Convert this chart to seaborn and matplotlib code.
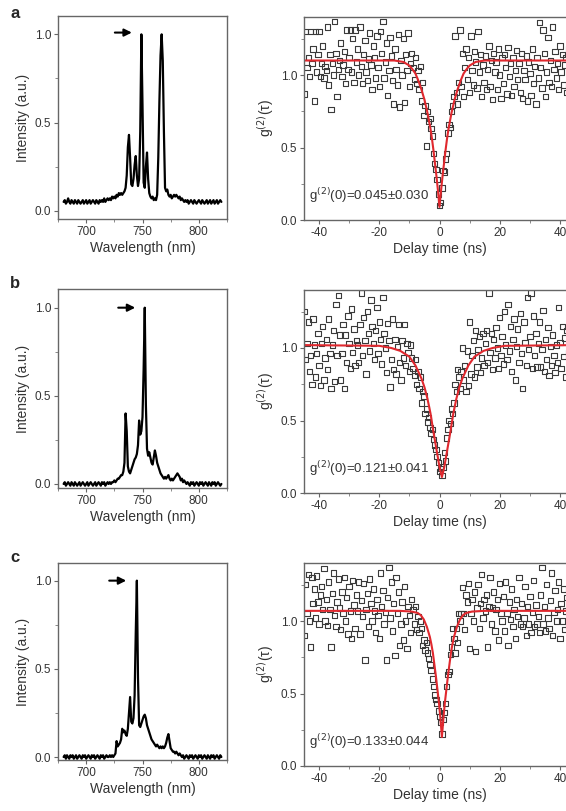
import matplotlib
matplotlib.use("Agg")
import matplotlib.pyplot as plt
from matplotlib.ticker import MultipleLocator, AutoMinorLocator
import seaborn as sns
import numpy as np

# ----------------------------- dados -----------------------------

# espectros: 680 a 820 nm, passo de 1 nm
wavelength = np.arange(680, 821)

spec_a = [0.05, 0.06, 0.04, 0.05, 0.07, 0.05, 0.04, 0.06, 0.05, 0.04,
          0.06, 0.05, 0.04, 0.06, 0.05, 0.04, 0.05, 0.06, 0.04, 0.05,
          0.06, 0.04, 0.05, 0.06, 0.04, 0.05, 0.06, 0.05, 0.04, 0.06,
          0.05, 0.04, 0.06, 0.05, 0.06, 0.05, 0.07, 0.05, 0.06, 0.07,
          0.06, 0.07, 0.06, 0.08, 0.07, 0.08, 0.07, 0.09, 0.08, 0.10,
          0.09, 0.10, 0.09, 0.10, 0.11, 0.13, 0.20, 0.36, 0.43, 0.30,
          0.15, 0.14, 0.18, 0.26, 0.31, 0.20, 0.14, 0.18, 0.45, 1.00,
          0.60, 0.16, 0.13, 0.25, 0.33, 0.18, 0.10, 0.08, 0.07, 0.08,
          0.06, 0.07, 0.06, 0.09, 0.30, 0.62, 0.88, 1.00, 0.85, 0.45,
          0.13, 0.11, 0.12, 0.09, 0.08, 0.09, 0.07, 0.08, 0.09, 0.08,
          0.09, 0.08, 0.07, 0.08, 0.06, 0.07, 0.06, 0.05, 0.06, 0.05,
          0.06, 0.04, 0.05, 0.06, 0.05, 0.04, 0.06, 0.05, 0.04, 0.05,
          0.06, 0.05, 0.04, 0.06, 0.05, 0.04, 0.05, 0.06, 0.04, 0.05,
          0.06, 0.04, 0.05, 0.06, 0.04, 0.05, 0.06, 0.04, 0.05, 0.06,
          0.05]

spec_b = [0.00, 0.01, -0.01, 0.00, 0.01, 0.00, -0.01, 0.01, 0.00, -0.01,
          0.01, 0.00, -0.01, 0.00, 0.01, -0.01, 0.00, 0.01, 0.00, -0.01,
          0.00, 0.01, -0.01, 0.00, 0.01, 0.00, -0.01, 0.00, 0.01, -0.01,
          0.00, 0.01, 0.00, -0.01, 0.01, 0.00, 0.01, -0.01, 0.00, 0.01,
          0.00, 0.01, 0.00, 0.01, 0.01, 0.02, 0.01, 0.02, 0.03, 0.03,
          0.04, 0.05, 0.05, 0.07, 0.12, 0.40, 0.30, 0.10, 0.07, 0.06,
          0.08, 0.10, 0.12, 0.14, 0.15, 0.17, 0.22, 0.36, 0.28, 0.30,
          0.38, 0.65, 1.00, 0.45, 0.20, 0.16, 0.18, 0.15, 0.12, 0.11,
          0.15, 0.19, 0.16, 0.12, 0.10, 0.08, 0.06, 0.05, 0.04, 0.03,
          0.04, 0.03, 0.04, 0.05, 0.03, 0.02, 0.03, 0.02, 0.03, 0.04,
          0.05, 0.06, 0.05, 0.04, 0.02, 0.03, 0.01, 0.02, 0.01, 0.00,
          0.01, 0.00, -0.01, 0.01, 0.00, 0.01, -0.01, 0.00, 0.01, 0.00,
          -0.01, 0.01, 0.00, 0.01, -0.01, 0.00, 0.01, 0.00, -0.01, 0.01,
          0.00, -0.01, 0.01, 0.00, 0.01, -0.01, 0.00, 0.01, 0.00, -0.01,
          0.00]

spec_c = [0.00, 0.01, -0.01, 0.01, 0.00, -0.01, 0.01, 0.00, 0.01, -0.01,
          0.00, 0.01, -0.01, 0.00, 0.01, 0.00, -0.01, 0.01, 0.00, 0.01,
          -0.01, 0.00, 0.01, 0.00, -0.01, 0.01, 0.00, 0.01, -0.01, 0.00,
          0.01, 0.00, -0.01, 0.01, 0.00, 0.01, -0.01, 0.00, 0.01, 0.00,
          0.00, 0.01, 0.00, 0.01, 0.00, 0.01, 0.02, 0.09, 0.06, 0.07,
          0.08, 0.10, 0.16, 0.14, 0.15, 0.13, 0.12, 0.16, 0.25, 0.34,
          0.20, 0.19, 0.22, 0.35, 0.70, 1.00, 0.45, 0.18, 0.17, 0.19,
          0.21, 0.23, 0.24, 0.22, 0.18, 0.16, 0.14, 0.12, 0.10, 0.09,
          0.08, 0.07, 0.06, 0.07, 0.06, 0.05, 0.06, 0.05, 0.06, 0.05,
          0.06, 0.08, 0.11, 0.13, 0.09, 0.05, 0.04, 0.03, 0.03, 0.02,
          0.03, 0.02, 0.01, 0.02, 0.01, 0.00, 0.01, -0.01, 0.00, 0.01,
          0.00, -0.01, 0.01, 0.00, 0.01, -0.01, 0.00, 0.01, 0.00, -0.01,
          0.01, 0.00, 0.01, -0.01, 0.00, 0.01, 0.00, -0.01, 0.01, 0.00,
          -0.01, 0.01, 0.00, 0.01, -0.01, 0.00, 0.01, 0.00, -0.01, 0.01,
          0.00]

# g2: bins de atraso de -44.8 a 44.8 ns, passo de 0.4 ns
delay = np.round(np.arange(-44.8, 44.81, 0.4), 1)

g2_a = [0.87, 1.30, 1.05, 1.12, 0.99, 1.30, 1.08, 1.18, 0.82, 1.30, 1.02, 1.14, 1.30, 0.99, 1.08,
        1.20, 0.98, 1.06, 1.03, 1.33, 0.93, 1.14, 0.76, 1.08, 1.00, 1.37, 1.15, 0.85, 1.04, 1.10,
        1.22, 0.99, 1.07, 1.16, 0.94, 1.31, 1.04, 1.12, 1.31, 1.02, 1.25, 0.95, 1.31, 1.09, 1.18,
        1.00, 1.33, 1.06, 0.94, 1.14, 1.24, 1.02, 0.96, 1.11, 1.29, 1.07, 0.90, 1.20, 1.12, 0.98,
        1.27, 1.05, 0.92, 1.30, 1.15, 1.37, 0.98, 1.09, 1.22, 0.86, 1.03, 1.26, 1.13, 0.96, 0.80,
        1.18, 1.04, 0.93, 1.28, 0.78, 1.10, 1.00, 1.25, 0.81, 1.14, 1.03, 1.29, 0.92, 1.08, 1.15,
        1.05, 0.97, 1.12, 0.94, 1.03, 0.90, 1.06, 0.82, 0.95, 0.72, 0.79, 0.51, 0.75, 0.68, 0.70,
        0.63, 0.58, 0.46, 0.39, 0.35, 0.28, 0.18, 0.10, 0.12, 0.22, 0.34, 0.33, 0.42, 0.46, 0.60,
        0.66, 0.64, 0.75, 0.79, 0.85, 1.27, 0.88, 0.80, 0.95, 1.31, 0.92, 1.15, 0.85, 1.05, 1.18,
        0.97, 1.12, 0.88, 1.27, 1.03, 0.93, 1.16, 1.09, 0.91, 1.30, 1.02, 1.14, 0.85, 1.07, 0.95,
        1.13, 0.90, 1.04, 1.20, 0.92, 1.10, 0.83, 1.15, 1.02, 1.09, 0.90, 1.18, 1.00, 0.84, 1.12,
        0.94, 1.14, 1.05, 0.87, 1.19, 0.99, 1.08, 0.86, 1.12, 0.92, 1.03, 1.17, 0.97, 1.08, 0.88,
        1.15, 0.84, 1.03, 0.97, 1.13, 0.82, 1.09, 1.01, 0.86, 1.18, 0.94, 1.06, 0.80, 1.12, 0.98,
        1.36, 1.05, 0.91, 1.31, 1.15, 0.85, 1.02, 1.26, 0.95, 1.10, 0.92, 1.33, 1.04, 1.16, 0.98,
        1.08, 0.90, 1.20, 1.02, 1.14, 0.93, 1.07, 1.12, 0.88, 1.18, 1.00, 1.10, 0.95, 1.05, 1.12]

g2_b = [1.25, 0.92, 1.03, 1.18, 0.84, 0.95, 0.75, 1.20, 1.02, 0.80, 0.96, 1.10, 0.88, 0.74, 1.03,
        1.15, 0.78, 0.93, 1.06, 0.85, 1.20, 0.96, 0.72, 1.02, 1.12, 0.77, 1.30, 0.95, 1.36, 1.09,
        0.78, 0.96, 1.16, 0.72, 1.09, 0.90, 1.22, 1.03, 0.86, 1.27, 0.97, 1.13, 0.88, 1.05, 1.02,
        0.90, 1.16, 1.38, 0.95, 1.21, 1.05, 0.82, 1.25, 1.10, 0.98, 1.33, 1.15, 1.03, 0.92, 1.12,
        1.28, 0.96, 1.18, 1.06, 0.89, 1.35, 1.10, 1.00, 0.83, 1.17, 1.05, 0.73, 0.92, 1.20, 0.85,
        1.06, 0.82, 1.01, 1.16, 0.90, 0.78, 1.05, 0.93, 1.16, 0.88, 1.03, 0.97, 0.84, 1.02, 0.93,
        0.86, 0.81, 0.92, 0.75, 0.84, 0.72, 0.80, 0.62, 0.70, 0.67, 0.55, 0.58, 0.49, 0.52, 0.45,
        0.41, 0.44, 0.37, 0.33, 0.30, 0.25, 0.21, 0.15, 0.17, 0.12, 0.18, 0.28, 0.22, 0.38, 0.44,
        0.50, 0.48, 0.58, 0.55, 0.62, 0.75, 0.70, 0.85, 0.80, 0.72, 0.84, 1.00, 0.78, 0.88, 0.70,
        0.98, 0.74, 1.18, 0.82, 0.95, 1.05, 0.80, 1.12, 0.87, 0.99, 1.08, 0.83, 0.93, 1.10, 0.88,
        1.03, 1.12, 0.90, 1.38, 0.97, 1.10, 0.85, 1.06, 0.93, 1.14, 1.00, 0.86, 1.21, 0.95, 1.08,
        0.89, 1.25, 1.02, 0.92, 1.30, 0.98, 1.15, 0.84, 1.06, 1.20, 0.78, 1.01, 1.13, 0.90, 1.24,
        0.96, 0.72, 1.18, 1.04, 0.88, 1.35, 0.99, 1.08, 1.38, 0.86, 1.22, 0.95, 1.10, 0.87, 1.03,
        1.18, 0.87, 0.99, 1.26, 0.84, 1.06, 0.92, 1.14, 0.81, 1.01, 0.88, 1.09, 0.95, 0.83, 1.02,
        0.90, 1.28, 1.04, 0.86, 1.15, 0.94, 1.07, 0.80, 1.12, 0.97, 1.03, 0.91, 1.20, 0.99, 1.08]

g2_c = [0.90, 1.25, 1.05, 1.32, 1.00, 0.82, 1.30, 1.12, 1.22, 1.02, 1.31, 1.13, 0.98, 1.18, 1.24,
        1.08, 1.36, 1.00, 1.15, 0.97, 1.27, 1.08, 0.82, 1.19, 1.33, 1.04, 0.96, 1.13, 1.29, 1.09,
        0.94, 1.20, 1.05, 1.30, 1.00, 1.16, 0.91, 1.24, 1.07, 0.88, 1.28, 1.11, 0.95, 1.18, 1.07,
        1.27, 0.91, 1.14, 1.03, 1.26, 0.73, 1.08, 1.19, 0.96, 1.29, 1.12, 1.00, 1.22, 1.07, 0.92,
        1.15, 1.04, 0.88, 1.33, 1.10, 1.21, 0.98, 1.06, 0.73, 1.16, 1.37, 1.02, 1.27, 0.93, 1.12,
        0.76, 1.30, 1.05, 1.20, 0.83, 0.98, 1.13, 0.87, 1.24, 1.00, 0.81, 1.10, 1.04, 0.92, 1.15,
        1.08, 0.98, 1.10, 0.94, 1.03, 0.92, 1.00, 0.95, 0.83, 0.87, 0.80, 0.85, 0.78, 0.74, 0.70,
        0.66, 0.60, 0.55, 0.49, 0.46, 0.43, 0.38, 0.34, 0.30, 0.22, 0.32, 0.37, 0.43, 0.55, 0.63,
        0.65, 0.77, 0.82, 0.95, 0.88, 0.78, 0.95, 0.85, 1.05, 1.00, 1.05, 1.23, 1.05, 0.94, 1.18,
        1.13, 1.26, 0.81, 1.05, 1.15, 1.00, 1.20, 0.79, 1.09, 1.25, 0.95, 1.12, 1.32, 1.02, 1.15,
        1.07, 1.18, 0.82, 1.10, 1.30, 0.98, 1.09, 1.20, 0.93, 1.08, 1.15, 0.87, 1.26, 1.05, 1.00,
        1.17, 0.93, 1.27, 1.05, 0.83, 1.13, 1.01, 1.22, 0.96, 1.08, 0.88, 1.15, 1.03, 1.30, 0.98,
        1.12, 0.96, 1.02, 1.24, 0.90, 1.10, 0.98, 1.17, 0.92, 1.06, 1.28, 0.96, 1.11, 0.98, 1.03,
        0.92, 1.18, 1.37, 0.98, 1.10, 0.93, 1.25, 1.02, 0.95, 1.14, 1.33, 0.90, 1.06, 1.21, 1.00,
        1.08, 1.27, 0.88, 1.12, 1.00, 1.22, 0.94, 1.07, 1.16, 0.96, 1.30, 1.05, 1.12, 0.92, 1.09]

fit_a_tau = [-45, -15, -12, -10, -9, -8, -7, -6, -5, -4, -3, -2.5, -2, -1.5, -1, -0.5, 0,
             0.5, 1, 1.5, 2, 2.5, 3, 4, 5, 6, 7, 8, 9, 10, 12, 15, 45]
fit_a_g = [1.10, 1.10, 1.09, 1.065, 1.04, 1.01, 0.96, 0.90, 0.83, 0.74, 0.63, 0.56, 0.48, 0.39, 0.30, 0.20, 0.09,
           0.20, 0.30, 0.39, 0.48, 0.56, 0.63, 0.74, 0.83, 0.90, 0.96, 1.01, 1.04, 1.065, 1.09, 1.10, 1.10]

fit_b_tau = [-45, -20, -16, -13, -10, -8, -6, -5, -4, -3, -2, -1, 0, 0.8,
             1.6, 2.6, 3.6, 4.6, 5.6, 6.6, 7.6, 9.6, 11.6, 14.6, 17.6, 21.6, 45]
fit_b_g = [1.02, 1.015, 1.0, 0.98, 0.94, 0.88, 0.79, 0.73, 0.65, 0.55, 0.42, 0.30, 0.18, 0.11,
           0.18, 0.30, 0.42, 0.55, 0.65, 0.73, 0.79, 0.88, 0.94, 0.98, 1.0, 1.015, 1.02]

fit_c_tau = [-45, -13.2, -9.2, -7.2, -6.2, -5.2, -4.2, -3.2, -2.7, -2.2, -1.7, -1.2, -0.7, -0.2, 0.3, 0.8,
             1.3, 1.8, 2.3, 2.8, 3.3, 3.8, 4.3, 4.8, 5.8, 6.8, 7.8, 8.8, 10.8, 14.8, 45]
fit_c_g = [1.07, 1.07, 1.065, 1.055, 1.04, 1.01, 0.96, 0.89, 0.84, 0.78, 0.70, 0.62, 0.53, 0.44, 0.33, 0.20,
           0.33, 0.44, 0.53, 0.62, 0.70, 0.78, 0.84, 0.89, 0.96, 1.01, 1.04, 1.055, 1.065, 1.07, 1.07]

letters = ["a", "b", "c"]
g2_text = ["0.045±0.030", "0.121±0.041", "0.133±0.044"]

# ----------------------------- figura -----------------------------

sns.set_style("ticks")
plt.rcParams["font.family"] = ["Liberation Sans", "DejaVu Sans"]
plt.rcParams["axes.unicode_minus"] = False

W, H = 566, 811
fig = plt.figure(figsize=(W / 100, H / 100), dpi=100)

def px_axes(l, t, r, b):
    return fig.add_axes([l / W, 1 - b / H, (r - l) / W, (b - t) / H])

def style(ax):
    for s in ax.spines.values():
        s.set_color("#666666")
        s.set_linewidth(1.0)
    ax.tick_params(which="major", direction="out", length=3, width=0.8,
                   colors="#666666", labelcolor="#333333", labelsize=8.5, pad=2)
    ax.tick_params(which="minor", direction="out", length=2, width=0.6, colors="#777777")
    ax.xaxis.set_minor_locator(AutoMinorLocator(2))
    ax.yaxis.set_minor_locator(AutoMinorLocator(2))

spectra = [spec_a, spec_b, spec_c]
g2s = [g2_a, g2_b, g2_c]
fits = [(fit_a_tau, fit_a_g), (fit_b_tau, fit_b_g), (fit_c_tau, fit_c_g)]

left_box = [(58, 16, 227, 219), (58, 289, 227, 488), (58, 563, 227, 760)]
right_box = [(304, 17, 575, 220), (304, 290, 575, 493), (304, 563, 575, 766)]
left_ylim = [(-0.047, 1.104), (-0.023, 1.106), (-0.017, 1.10)]
arrows = [(723, 743, 1.01), (726, 746, 1.0), (718, 738, 1.0)]
letter_y = [13, 283, 557]

for i in range(3):
    # espectro
    ax = px_axes(*left_box[i])
    sns.lineplot(x=wavelength, y=spectra[i], ax=ax, color="black", lw=1.6, estimator=None)
    ax.set_xlim(675, 825)
    ax.set_ylim(*left_ylim[i])
    ax.xaxis.set_major_locator(MultipleLocator(50))
    ax.yaxis.set_major_locator(MultipleLocator(0.5))
    ax.yaxis.set_major_formatter(plt.FormatStrFormatter("%.1f"))
    style(ax)
    ax.set_xlabel("Wavelength (nm)", fontsize=10, color="#333333", labelpad=2)
    ax.set_ylabel("Intensity (a.u.)", fontsize=10, color="#333333", labelpad=3)
    x0, x1, ya = arrows[i]
    ax.annotate("", xy=(x1, ya), xytext=(x0, ya),
                arrowprops=dict(arrowstyle="-|>", color="black", lw=1.5, mutation_scale=11))

    # g2
    ax2 = px_axes(*right_box[i])
    sns.scatterplot(x=delay, y=g2s[i], ax=ax2, marker="s", s=15, linewidth=0.8)
    ax2.collections[0].set_facecolor("none")
    ax2.collections[0].set_edgecolor("#3a3a3a")
    sns.lineplot(x=fits[i][0], y=fits[i][1], ax=ax2, color="#e0282e", lw=1.5, estimator=None, sort=False)
    ax2.set_xlim(-45, 45)
    ax2.set_ylim(0, 1.4)
    ax2.xaxis.set_major_locator(MultipleLocator(20))
    ax2.yaxis.set_major_locator(MultipleLocator(0.5))
    ax2.yaxis.set_major_formatter(plt.FormatStrFormatter("%.1f"))
    style(ax2)
    ax2.set_xlabel("Delay time (ns)", fontsize=10, color="#333333", labelpad=2)
    ax2.set_ylabel("g$^{(2)}$(τ)", fontsize=10, color="#333333", labelpad=3)
    ax2.text(-43.5, 0.17, "g$^{(2)}$(0)=" + g2_text[i], fontsize=9.5, color="#333333", va="center")

    fig.text(15 / W, 1 - letter_y[i] / H, letters[i], fontsize=12, fontweight="bold",
             ha="center", va="center")

fig.savefig("out.png", dpi=100)
